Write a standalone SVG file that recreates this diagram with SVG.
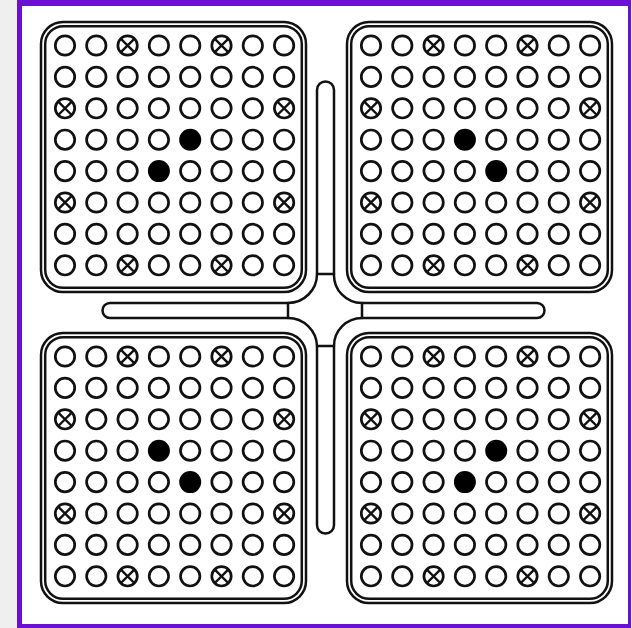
<svg xmlns="http://www.w3.org/2000/svg" xmlns:xlink="http://www.w3.org/1999/xlink" width="632" height="628" viewBox="0 0 632 628">
<style>
.ln{fill:none;stroke:#111;stroke-width:2.5;stroke-linejoin:round;stroke-linecap:round}
.c{fill:#fff;stroke:#111;stroke-width:2.7}
.x{stroke:#111;stroke-width:2.4}
.d{fill:#000}
</style>
<defs>
<g id="o"><circle class="c" r="9.7"/></g>
<g id="x"><circle class="c" r="9.7"/><path class="x" d="M-6.7,-6.7L6.7,6.7M6.7,-6.7L-6.7,6.7"/></g>
<g id="d"><circle class="d" r="11"/></g>
<g id="frame"><rect class="ln" x="0" y="0" width="265" height="270" rx="22"/><rect class="ln" x="4.2" y="4.2" width="256.6" height="261.6" rx="18"/></g>
<g id="base">
<use href="#o" x="24" y="23.5"/><use href="#o" x="55.3" y="23.5"/><use href="#x" x="86.6" y="23.5"/><use href="#o" x="117.9" y="23.5"/><use href="#o" x="149.2" y="23.5"/><use href="#x" x="180.5" y="23.5"/><use href="#o" x="211.8" y="23.5"/><use href="#o" x="243.1" y="23.5"/>
<use href="#o" x="24" y="54.9"/><use href="#o" x="55.3" y="54.9"/><use href="#o" x="86.6" y="54.9"/><use href="#o" x="117.9" y="54.9"/><use href="#o" x="149.2" y="54.9"/><use href="#o" x="180.5" y="54.9"/><use href="#o" x="211.8" y="54.9"/><use href="#o" x="243.1" y="54.9"/>
<use href="#x" x="24" y="86.3"/><use href="#o" x="55.3" y="86.3"/><use href="#o" x="86.6" y="86.3"/><use href="#o" x="117.9" y="86.3"/><use href="#o" x="149.2" y="86.3"/><use href="#o" x="180.5" y="86.3"/><use href="#o" x="211.8" y="86.3"/><use href="#x" x="243.1" y="86.3"/>
<use href="#o" x="24" y="117.7"/><use href="#o" x="55.3" y="117.7"/><use href="#o" x="86.6" y="117.7"/><use href="#o" x="180.5" y="117.7"/><use href="#o" x="211.8" y="117.7"/><use href="#o" x="243.1" y="117.7"/>
<use href="#o" x="24" y="149.1"/><use href="#o" x="55.3" y="149.1"/><use href="#o" x="86.6" y="149.1"/><use href="#o" x="180.5" y="149.1"/><use href="#o" x="211.8" y="149.1"/><use href="#o" x="243.1" y="149.1"/>
<use href="#x" x="24" y="180.5"/><use href="#o" x="55.3" y="180.5"/><use href="#o" x="86.6" y="180.5"/><use href="#o" x="117.9" y="180.5"/><use href="#o" x="149.2" y="180.5"/><use href="#o" x="180.5" y="180.5"/><use href="#o" x="211.8" y="180.5"/><use href="#x" x="243.1" y="180.5"/>
<use href="#o" x="24" y="211.9"/><use href="#o" x="55.3" y="211.9"/><use href="#o" x="86.6" y="211.9"/><use href="#o" x="117.9" y="211.9"/><use href="#o" x="149.2" y="211.9"/><use href="#o" x="180.5" y="211.9"/><use href="#o" x="211.8" y="211.9"/><use href="#o" x="243.1" y="211.9"/>
<use href="#o" x="24" y="243.3"/><use href="#o" x="55.3" y="243.3"/><use href="#x" x="86.6" y="243.3"/><use href="#o" x="117.9" y="243.3"/><use href="#o" x="149.2" y="243.3"/><use href="#x" x="180.5" y="243.3"/><use href="#o" x="211.8" y="243.3"/><use href="#o" x="243.1" y="243.3"/>
</g>
<g id="centerA"><use href="#o" x="117.9" y="117.7"/><use href="#d" x="149.2" y="117.7"/><use href="#d" x="117.9" y="149.1"/><use href="#o" x="149.2" y="149.1"/></g>
<g id="centerB"><use href="#d" x="117.9" y="117.7"/><use href="#o" x="149.2" y="117.7"/><use href="#o" x="117.9" y="149.1"/><use href="#d" x="149.2" y="149.1"/></g>
</defs>
<rect x="0" y="0" width="632" height="628" fill="#efefef"/>
<rect x="17" y="0" width="614" height="628" fill="#6a10d4"/>
<rect x="22" y="6" width="606" height="618" fill="#fff"/>
<g id="panel-tl" transform="translate(41,22)"><use href="#frame"/><use href="#base"/><use href="#centerA"/></g>
<g id="panel-tr" transform="translate(347,22)"><use href="#frame"/><use href="#base"/><use href="#centerB"/></g>
<g id="panel-bl" transform="translate(41,333)"><use href="#frame"/><use href="#base"/><use href="#centerB"/></g>
<g id="panel-br" transform="translate(347,333)"><use href="#frame"/><use href="#base"/><use href="#centerA"/></g>
<g id="connectors">
<path class="ln" d="M110,303 L288,303 A29,29 0 0 0 317,274 L317,90 A8.5,8.5 0 0 1 334,90 L334,274 A28,28 0 0 0 362,303 L537,303 A7.5,7.5 0 0 1 537,318 L362,318 A28,28 0 0 0 334,346 L334,525 A8.5,8.5 0 0 1 317,525 L317,346 A29,29 0 0 0 288,318 L110,318 A7.5,7.5 0 0 1 110,303 Z"/>
<path class="ln" d="M317,274 H334 M317,346 H334 M288,303 V318 M362,303 V318"/>
</g>
</svg>
